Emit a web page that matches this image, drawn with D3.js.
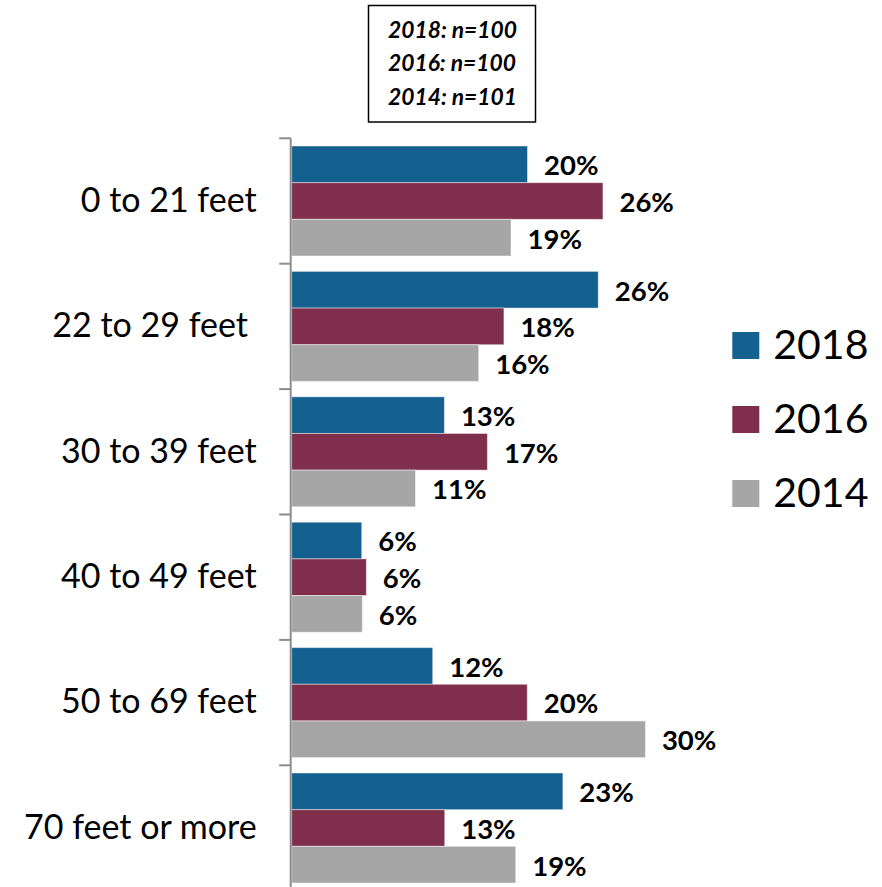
<!DOCTYPE html>
<html>
<head>
<meta charset="utf-8">
<script src="https://cdn.jsdelivr.net/npm/d3@7"></script>
<style>
  html, body { margin: 0; padding: 0; background: #fff; }
  svg { display: block; font-family: Lato, "Open Sans", sans-serif; }
</style>
</head>
<body>
<svg id="chart" width="882" height="887"></svg>
<script>
// Data
const categories = ["0 to 21 feet", "22 to 29 feet ", "30 to 39 feet", "40 to 49 feet", "50 to 69 feet", "70 feet or more"];
const seriesNames = ["2018", "2016", "2014"];
const values2018 = [20.0, 26.0, 12.95, 5.94, 11.96, 23.0];
const values2016 = [26.4, 18.0, 16.6, 6.33, 19.98, 12.98];
const values2014 = [18.6, 15.86, 10.5, 5.99, 30.0, 19.0];
const labels2018 = ["20%", "26%", "13%", "6%", "12%", "23%"];
const labels2016 = ["26%", "18%", "17%", "6%", "20%", "13%"];
const labels2014 = ["19%", "16%", "11%", "6%", "30%", "19%"];
const sampleNotes = ["2018: n=100", "2016: n=100", "2014: n=101"];

// Styles
const colors = {"2018": "#14608f", "2016": "#7f2f4b", "2014": "#a6a6a6"};
const axisColor = "#8c8c8c";

const svg = d3.select("#chart");

const rows = categories.map((c, i) => ({
    category: c,
    series: [
        {name: "2018", value: values2018[i], label: labels2018[i]},
        {name: "2016", value: values2016[i], label: labels2016[i]},
        {name: "2014", value: values2014[i], label: labels2014[i]},
    ]
}));

const x0 = 291.7;
const xScale = d3.scaleLinear()
    .domain([0, 50])
    .range([x0, x0 + 50 * 11.79]);

const yBand = d3.scaleBand()
    .domain(categories)
    .range([138.3, 138.3 + 6 * 125.4])
    .paddingInner(0)
    .paddingOuter(0);

const ySeries = d3.scaleBand()
    .domain(seriesNames)
    .range([0, yBand.bandwidth()])
    .paddingInner(0)
    .paddingOuter(0.21);

// Bars
const groups = svg.append("g")
    .selectAll("g")
    .data(rows)
    .join("g")
    .attr("transform", d => `translate(0,${yBand(d.category)})`);

groups.selectAll("rect")
    .data(d => d.series)
    .join("rect")
    .attr("x", xScale(0))
    .attr("y", d => ySeries(d.name))
    .attr("width", d => xScale(d.value) - xScale(0))
    .attr("height", ySeries.bandwidth())
    .attr("fill", d => colors[d.name])
    .attr("stroke", "rgba(255,255,255,0.45)")
    .attr("stroke-width", 1);

groups.selectAll("text")
    .data(d => d.series)
    .join("text")
    .attr("x", d => xScale(d.value) + 16.5)
    .attr("y", d => ySeries(d.name) + ySeries.bandwidth() / 2 + 1)
    .attr("dy", "0.36em")
    .attr("font-size", 27.5)
    .attr("font-weight", "bold")
    .attr("fill", "#000")
    .text(d => d.label);

// Category axis
const yAxis = svg.append("g")
    .attr("transform", `translate(${x0 - 1},0)`)
    .call(d3.axisLeft(yBand).tickSize(0).tickPadding(34).tickFormat(d => d));

yAxis.select(".domain").remove();
yAxis.selectAll("text")
    .attr("font-family", "Lato, sans-serif")
    .attr("font-size", 34)
    .attr("fill", "#000")
    .style("white-space", "pre");

const boundaries = categories.map(c => yBand(c));
svg.append("line")
    .attr("x1", x0 - 1).attr("x2", x0 - 1)
    .attr("y1", yBand.range()[0]).attr("y2", yBand.range()[1])
    .attr("stroke", axisColor)
    .attr("stroke-width", 2);
svg.append("g")
    .selectAll("line")
    .data(boundaries)
    .join("line")
    .attr("x1", x0 - 12.5).attr("x2", x0 - 1)
    .attr("y1", d => d).attr("y2", d => d)
    .attr("stroke", axisColor)
    .attr("stroke-width", 2);

// Legend
const legend = svg.append("g")
    .selectAll("g")
    .data(seriesNames)
    .join("g")
    .attr("transform", (d, i) => `translate(732.3,${332 + i * 74})`);
legend.append("rect")
    .attr("width", 27).attr("height", 27)
    .attr("fill", d => colors[d]);
legend.append("text")
    .attr("x", 41)
    .attr("y", 12)
    .attr("dy", "0.36em")
    .attr("font-size", 41)
    .attr("fill", "#000")
    .text(d => d);

// Sample size box
svg.append("rect")
    .attr("x", 368.5).attr("y", 5.5)
    .attr("width", 167).attr("height", 116.5)
    .attr("fill", "#fff")
    .attr("stroke", "#000")
    .attr("stroke-width", 1.5);
svg.append("g")
    .selectAll("text")
    .data(sampleNotes)
    .join("text")
    .attr("x", 388)
    .attr("y", (d, i) => 29.5 + i * 33.5)
    .attr("dy", "0.36em")
    .attr("font-size", 22.8)
    .attr("font-weight", "bold")
    .attr("font-style", "italic")
    .attr("fill", "#000")
    .text(d => d);
</script>
</body>
</html>
